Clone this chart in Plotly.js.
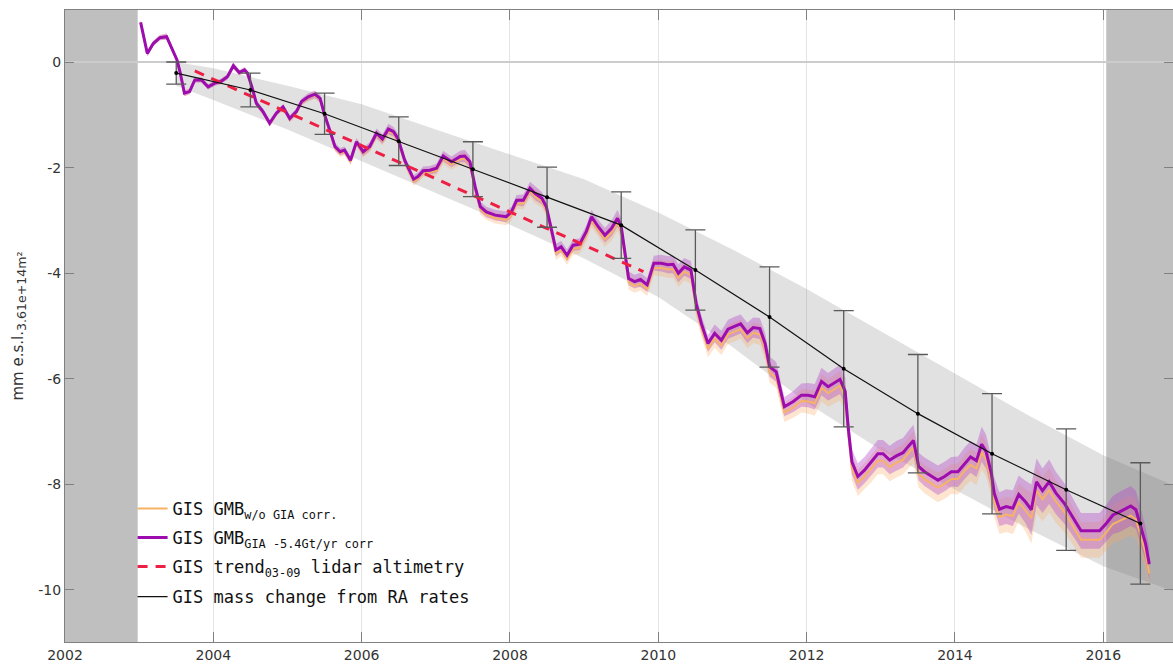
<!DOCTYPE html>
<html>
<head>
<meta charset="utf-8">
<script src="https://cdn.plot.ly/plotly-3.0.1.min.js"></script>
<style>html,body{margin:0;padding:0;background:#fff;}#chart{width:1173px;height:666px;}</style>
</head>
<body>
<div id="chart"></div>
<script>
// ---- data ----
const gmbYears = [
2003.02,2003.11,2003.19,2003.28,2003.37,2003.44,2003.51,2003.55,2003.61,2003.68,2003.75,2003.84,2003.93,
2004.02,2004.10,2004.19,2004.27,2004.35,2004.42,2004.46,2004.52,2004.58,2004.67,2004.76,2004.85,2004.94,
2005.03,2005.12,2005.19,2005.28,2005.37,2005.44,2005.50,2005.57,2005.64,2005.71,2005.77,2005.85,2005.93,
2006.02,2006.11,2006.20,2006.28,2006.36,2006.43,2006.49,2006.58,2006.70,2006.76,2006.83,2006.92,
2007.01,2007.10,2007.21,2007.33,2007.39,2007.46,2007.53,2007.60,2007.68,2007.80,2007.95,
2008.02,2008.09,2008.18,2008.27,2008.34,2008.43,2008.49,2008.56,2008.62,2008.69,2008.77,2008.85,2008.94,
2009.03,2009.10,2009.19,2009.28,2009.37,2009.45,2009.50,2009.55,2009.60,2009.68,2009.76,2009.85,2009.94,
2010.04,2010.13,2010.20,2010.27,2010.35,2010.44,2010.51,2010.58,2010.67,2010.76,2010.85,2010.94,
2011.02,2011.11,2011.20,2011.28,2011.37,2011.44,2011.50,2011.59,2011.70,2011.82,2011.93,
2012.02,2012.11,2012.20,2012.29,2012.36,2012.45,2012.52,2012.56,2012.61,2012.69,2012.78,2012.87,2012.96,
2013.03,2013.12,2013.21,2013.30,2013.37,2013.44,2013.48,2013.51,2013.59,2013.68,2013.77,2013.86,2013.95,
2014.04,2014.13,2014.21,2014.29,2014.36,2014.42,2014.49,2014.53,2014.60,2014.69,2014.78,2014.86,2014.95,
2015.03,2015.10,2015.18,2015.27,2015.36,2015.48,2015.57,2015.63,2015.70,2015.81,2015.95,
2016.04,2016.13,2016.22,2016.29,2016.37,2016.44,2016.50,2016.57,2016.62];

// GMB with GIA -5.4 Gt/yr correction (purple)
const gmbGiaCorr = [
0.75,0.16,0.35,0.46,0.48,0.26,0.04,-0.18,-0.59,-0.56,-0.34,-0.34,-0.47,
-0.40,-0.37,-0.28,-0.07,-0.20,-0.15,-0.21,-0.47,-0.78,-0.94,-1.16,-0.97,-0.85,
-1.07,-0.94,-0.75,-0.66,-0.61,-0.69,-1.00,-1.29,-1.60,-1.70,-1.67,-1.86,-1.51,
-1.70,-1.60,-1.35,-1.46,-1.27,-1.32,-1.45,-1.86,-2.22,-2.17,-2.06,-2.05,
-2.01,-1.78,-1.89,-1.79,-1.78,-1.89,-2.36,-2.74,-2.84,-2.90,-2.93,
-2.84,-2.62,-2.62,-2.39,-2.49,-2.58,-2.74,-3.18,-3.56,-3.50,-3.66,-3.47,-3.45,
-3.21,-2.93,-3.12,-3.28,-3.15,-2.96,-3.12,-3.62,-4.10,-4.16,-4.12,-4.22,-3.81,
-3.81,-3.84,-3.83,-4.00,-3.88,-3.94,-4.57,-4.95,-5.33,-5.14,-5.27,-5.06,
-5.01,-4.96,-5.13,-5.03,-5.05,-5.33,-5.77,-5.87,-6.53,-6.43,-6.31,
-6.31,-6.34,-6.05,-6.15,-6.09,-6.01,-6.24,-6.91,-7.57,-7.85,-7.73,-7.57,-7.42,
-7.42,-7.54,-7.46,-7.40,-7.28,-7.17,-7.44,-7.66,-7.76,-7.84,-7.92,-7.85,-7.76,
-7.76,-7.60,-7.48,-7.55,-7.24,-7.38,-7.79,-8.17,-8.47,-8.42,-8.45,-8.19,-8.33,
-8.48,-7.95,-8.12,-7.95,-8.16,-8.37,-8.58,-8.71,-8.88,-8.88,-8.88,
-8.74,-8.58,-8.52,-8.47,-8.41,-8.48,-8.77,-9.12,-9.51];

// GMB without GIA correction (orange)
const gmbNoGia = [
0.75,0.16,0.35,0.46,0.48,0.26,0.04,-0.18,-0.59,-0.56,-0.34,-0.34,-0.47,
-0.40,-0.37,-0.28,-0.08,-0.21,-0.16,-0.22,-0.48,-0.79,-0.95,-1.17,-0.98,-0.87,
-1.09,-0.96,-0.77,-0.68,-0.63,-0.71,-1.02,-1.31,-1.63,-1.73,-1.70,-1.89,-1.54,
-1.73,-1.63,-1.38,-1.49,-1.31,-1.36,-1.49,-1.90,-2.26,-2.21,-2.10,-2.09,
-2.06,-1.83,-1.94,-1.84,-1.83,-1.94,-2.41,-2.79,-2.89,-2.96,-2.99,
-2.90,-2.68,-2.68,-2.45,-2.55,-2.64,-2.80,-3.25,-3.63,-3.57,-3.73,-3.54,-3.52,
-3.28,-3.00,-3.19,-3.36,-3.23,-3.04,-3.20,-3.70,-4.18,-4.24,-4.20,-4.30,-3.90,
-3.90,-3.93,-3.92,-4.09,-3.97,-4.03,-4.66,-5.04,-5.43,-5.24,-5.37,-5.16,
-5.11,-5.06,-5.23,-5.13,-5.16,-5.44,-5.88,-5.98,-6.64,-6.54,-6.42,
-6.43,-6.46,-6.17,-6.27,-6.21,-6.13,-6.36,-7.03,-7.69,-7.97,-7.85,-7.70,-7.55,
-7.55,-7.67,-7.59,-7.53,-7.41,-7.30,-7.57,-7.80,-7.90,-7.98,-8.06,-7.99,-7.90,
-7.90,-7.74,-7.63,-7.70,-7.39,-7.53,-7.94,-8.32,-8.62,-8.57,-8.60,-8.34,-8.49,
-8.64,-8.11,-8.28,-8.11,-8.32,-8.53,-8.74,-8.88,-9.05,-9.05,-9.05,
-8.91,-8.75,-8.69,-8.64,-8.59,-8.66,-8.95,-9.30,-9.69];

// uncertainty half-width of the GMB curves
const gmbSigma = [
0.04,0.05,0.05,0.05,0.06,0.05,0.05,0.05,0.06,0.05,0.05,0.05,0.05,
0.05,0.05,0.05,0.06,0.05,0.05,0.05,0.06,0.06,0.06,0.06,0.05,0.05,
0.06,0.06,0.06,0.07,0.07,0.07,0.07,0.07,0.07,0.07,0.07,0.07,0.07,
0.08,0.08,0.09,0.09,0.10,0.09,0.09,0.08,0.08,0.08,0.08,0.08,
0.09,0.10,0.10,0.11,0.12,0.11,0.10,0.10,0.10,0.10,0.10,
0.10,0.10,0.11,0.12,0.13,0.12,0.11,0.11,0.12,0.11,0.11,0.11,0.11,
0.12,0.13,0.13,0.14,0.15,0.16,0.15,0.14,0.13,0.13,0.13,0.13,0.14,
0.16,0.16,0.17,0.17,0.17,0.17,0.16,0.15,0.16,0.17,0.18,0.18,
0.18,0.18,0.19,0.19,0.20,0.20,0.19,0.19,0.18,0.20,0.22,
0.23,0.24,0.26,0.26,0.27,0.28,0.26,0.24,0.24,0.25,0.25,0.26,0.26,
0.26,0.27,0.28,0.28,0.29,0.30,0.28,0.26,0.27,0.28,0.28,0.28,0.28,
0.29,0.30,0.30,0.31,0.33,0.32,0.30,0.30,0.32,0.33,0.34,0.36,0.40,
0.48,0.44,0.42,0.42,0.40,0.38,0.36,0.35,0.34,0.34,0.34,
0.35,0.36,0.38,0.38,0.38,0.36,0.34,0.32,0.30];

// lidar altimetry trend 2003-2009
const trendYears = [2003.75, 2009.80];
const trendVals  = [-0.17, -3.97];

// mass change from RA rates
const raYears = [2003.5,2004.5,2005.5,2006.5,2007.5,2008.5,2009.5,2010.5,2011.5,2012.5,2013.5,2014.5,2015.5,2016.5];
const raVals  = [-0.21,-0.53,-0.98,-1.50,-2.03,-2.56,-3.09,-3.94,-4.83,-5.81,-6.66,-7.42,-8.10,-8.74];
const raErr   = [0.21,0.32,0.39,0.46,0.52,0.57,0.63,0.76,0.95,1.10,1.12,1.14,1.15,1.15];

// envelope band around RA curve
const bandYears = [2003.5,2004,2005,2006,2007,2008,2009,2010,2011,2012,2013,2014,2015,2016,2017];
const bandUpper = [0.00,-0.12,-0.45,-0.80,-1.28,-1.75,-2.22,-2.85,-3.55,-4.30,-5.10,-5.90,-6.70,-7.45,-8.05];
const bandLower = [-0.45,-0.72,-1.28,-1.88,-2.48,-3.08,-3.72,-4.45,-5.40,-6.45,-7.35,-8.10,-8.85,-9.55,-10.05];

// shaded periods outside the common interval
const shadeStart = [2002.0, 2016.04];
const shadeEnd   = [2002.98, 2017.2];

const xTickVals = [2002,2004,2006,2008,2010,2012,2014,2016];
const xTickText = ['2002','2004','2006','2008','2010','2012','2014','2016'];
const yTickVals = [-10,-8,-6,-4,-2,0];
const yTickText = ['-10','-8','-6','-4','-2','0'];

const legendNames = [
  'GIS GMB<sub>w/o GIA corr.</sub>',
  'GIS GMB<sub>GIA -5.4Gt/yr corr</sub>',
  'GIS trend<sub>03-09</sub> lidar altimetry',
  'GIS mass change from RA rates'
];
const yTitle = '<span style="font-size:15px">mm e.s.l.</span><sub>3.61e+14m²</sub>';

// ---- build traces ----
function polygon(xs, up, lo) {
  return {
    x: xs.concat(xs.slice().reverse()),
    y: up.concat(lo.slice().reverse())
  };
}
const env = polygon(bandYears, bandUpper, bandLower);
const corrUp = gmbGiaCorr.map((v,i)=>v+gmbSigma[i]);
const corrLo = gmbGiaCorr.map((v,i)=>v-gmbSigma[i]);
const noUp = gmbNoGia.map((v,i)=>v+gmbSigma[i]);
const noLo = gmbNoGia.map((v,i)=>v-gmbSigma[i]);
const corrBand = polygon(gmbYears, corrUp, corrLo);
const noBand = polygon(gmbYears, noUp, noLo);

const traces = [
  {x: env.x, y: env.y, type:'scatter', mode:'lines', fill:'toself',
   fillcolor:'rgba(120,120,120,0.22)', line:{width:0}, showlegend:false, hoverinfo:'skip'},
  {x: noBand.x, y: noBand.y, type:'scatter', mode:'lines', fill:'toself',
   fillcolor:'rgba(250,170,100,0.30)', line:{width:0}, showlegend:false, hoverinfo:'skip'},
  {x: corrBand.x, y: corrBand.y, type:'scatter', mode:'lines', fill:'toself',
   fillcolor:'rgba(180,70,200,0.38)', line:{width:0}, showlegend:false, hoverinfo:'skip'},
  {x: gmbYears, y: gmbNoGia, type:'scatter', mode:'lines', name: legendNames[0], legend:'legend',
   line:{color:'#f6b366', width:2}},
  {x: gmbYears, y: gmbGiaCorr, type:'scatter', mode:'lines', name: legendNames[1], legend:'legend2',
   line:{color:'#9d0cae', width:3}},
  {x: trendYears, y: trendVals, type:'scatter', mode:'lines', name: legendNames[2], legend:'legend3',
   line:{color:'#ee1f45', width:3, dash:'10px,8px'}},
  {x: raYears, y: raVals, type:'scatter', mode:'lines', name: legendNames[3], legend:'legend4',
   line:{color:'#111111', width:1.2}},
  {x: raYears, y: raVals, type:'scatter', mode:'markers', showlegend:false,
   marker:{color:'#000', size:4},
   error_y:{type:'data', array: raErr, visible:true, color:'#5a5a5a', thickness:1.3, width:10}}
];

const shapes = shadeStart.map((s,i)=>({
  type:'rect', xref:'x', yref:'paper', x0:s, x1:shadeEnd[i], y0:0, y1:1,
  fillcolor:'#bfbfbf', line:{width:0}, layer:'below'
}));

const tickFont = {family:'DejaVu Sans, sans-serif', size:14, color:'#333333'};
const legFont = {family:'DejaVu Sans Mono, monospace', size:17, color:'#111111'};
function leg(y) {
  return {x:0.061, y:y, xanchor:'left', yanchor:'top', bgcolor:'rgba(0,0,0,0)',
          borderwidth:0, font:legFont, itemwidth:30};
}

const layout = {
  width:1173, height:666,
  margin:{l:65, r:0, t:10, b:24},
  paper_bgcolor:'#ffffff', plot_bgcolor:'#ffffff',
  showlegend:true,
  xaxis:{
    range:[2002, 2016.94], tickvals:xTickVals, ticktext:xTickText,
    ticks:'inside', ticklen:10, tickcolor:'#808080', tickwidth:1,
    showline:true, linecolor:'#808080', linewidth:1, mirror:'ticks',
    showgrid:true, gridcolor:'#e4e4e4', gridwidth:1, zeroline:false,
    tickfont:tickFont
  },
  yaxis:{
    range:[-10.985, 0.985], tickvals:yTickVals, ticktext:yTickText,
    ticks:'inside', ticklen:9, tickcolor:'#808080', tickwidth:1,
    showline:true, linecolor:'#808080', linewidth:1, mirror:'ticks',
    showgrid:false, zeroline:true, zerolinecolor:'#cccccc', zerolinewidth:1.5,
    tickfont:tickFont,
    title:{text:yTitle, font:{family:'DejaVu Sans, sans-serif', size:18, color:'#333333'}, standoff:10}
  },
  shapes: shapes,
  legend: leg(0.2389),
  legend2: leg(0.1930),
  legend3: leg(0.1472),
  legend4: leg(0.0997)
};

Plotly.newPlot('chart', traces, layout, {displayModeBar:false, staticPlot:true});
</script>
</body>
</html>
